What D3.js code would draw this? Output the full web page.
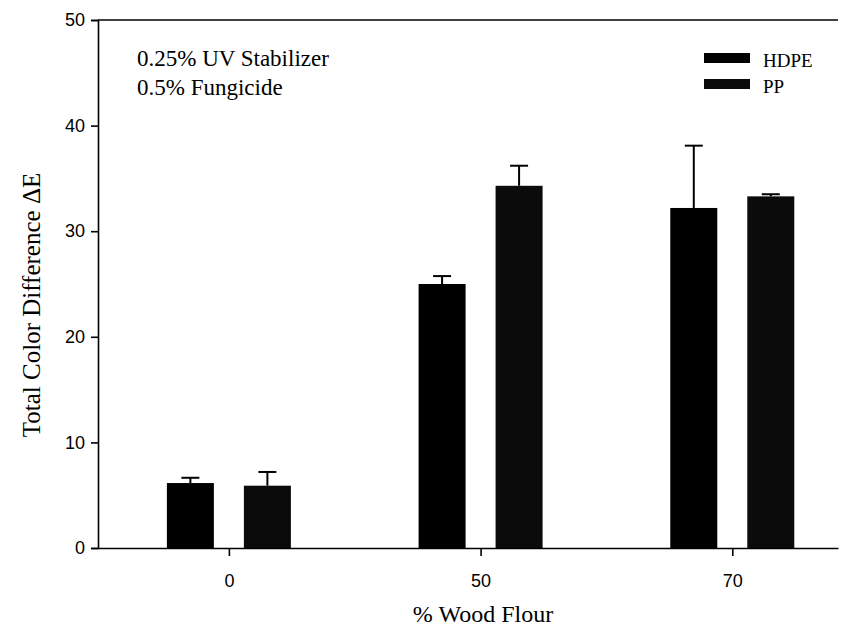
<!DOCTYPE html>
<html>
<head>
<meta charset="utf-8">
<script src="https://cdn.jsdelivr.net/npm/d3@7"></script>
<style>
  html, body { margin: 0; padding: 0; background: #fff; }
  svg { display: block; }
  .serif { font-family: "Liberation Serif", "Times New Roman", Times, serif; }
  .sans { font-family: "Liberation Sans", Arial, Helvetica, sans-serif; }
</style>
</head>
<body>
<svg id="chart" width="846" height="636"></svg>
<script>
// ---- data ----
const categories = ["0", "50", "70"];           // % Wood Flour
const seriesNames = ["HDPE", "PP"];
const hdpeValues = [6.15, 25.0, 32.2];
const hdpeErrors = [0.5, 0.75, 5.9];
const ppValues = [5.9, 34.3, 33.3];
const ppErrors = [1.3, 1.9, 0.2];
const yTicks = [0, 10, 20, 30, 40, 50];
const annotationLines = ["0.25% UV Stabilizer", "0.5% Fungicide"];

(function () {
const svg = d3.select("#chart");
const mLeft = 98, mRight = 838, mTop = 20, mBottom = 548;

const y = d3.scaleLinear().domain([0, 50]).range([mBottom, mTop]);
const x = d3.scaleLinear().domain([-0.52, 2.42]).range([mLeft, mRight]);
const offset = d3.scaleOrdinal().domain(seriesNames).range([-38.5, 38.5]);
const barW = 47;

const fills = { HDPE: "#000", PP: "#0b0b0b" };

const rows = [];
categories.forEach((c, i) => {
  rows.push({ s: "HDPE", i, v: hdpeValues[i], e: hdpeErrors[i] });
  rows.push({ s: "PP", i, v: ppValues[i], e: ppErrors[i] });
});

// bars
svg.append("g").selectAll("rect").data(rows).join("rect")
  .attr("x", d => x(d.i) + offset(d.s) - barW / 2)
  .attr("width", barW)
  .attr("y", d => y(d.v))
  .attr("height", d => y(0) - y(d.v))
  .attr("fill", d => fills[d.s]);

// error bars (upper only)
const eb = svg.append("g").attr("stroke", "#000").attr("stroke-width", 2);
eb.selectAll("line.v").data(rows).join("line").attr("class", "v")
  .attr("x1", d => x(d.i) + offset(d.s)).attr("x2", d => x(d.i) + offset(d.s))
  .attr("y1", d => y(d.v)).attr("y2", d => y(d.v + d.e));
eb.selectAll("line.c").data(rows).join("line").attr("class", "c")
  .attr("x1", d => x(d.i) + offset(d.s) - 9).attr("x2", d => x(d.i) + offset(d.s) + 9)
  .attr("y1", d => y(d.v + d.e)).attr("y2", d => y(d.v + d.e));

// y axis
const yAxis = svg.append("g").attr("transform", `translate(${mLeft},0)`)
  .call(d3.axisLeft(y).tickValues(yTicks).tickSize(7).tickPadding(6));
yAxis.attr("font-family", null).attr("font-size", null);
yAxis.select(".domain").attr("stroke-width", 1.6);
yAxis.selectAll(".tick line").attr("stroke-width", 1.6);
yAxis.selectAll("text").attr("class", "sans")
  .style("font-size", "18px").attr("fill", "#000");

// top line
svg.append("line").attr("x1", mLeft).attr("x2", mRight)
  .attr("y1", y(50)).attr("y2", y(50)).attr("stroke", "#000").attr("stroke-width", 1.6);

// x axis
const xAxis = svg.append("g").attr("transform", `translate(0,${mBottom})`)
  .call(d3.axisBottom(x).tickValues([0, 1, 2]).tickFormat(i => categories[i])
    .tickSize(8).tickSizeOuter(0).tickPadding(18));
xAxis.attr("font-family", null).attr("font-size", null);
xAxis.select(".domain").attr("stroke-width", 1.6);
xAxis.selectAll(".tick line").attr("stroke-width", 1.6);
xAxis.selectAll("text").attr("class", "sans")
  .style("font-size", "18px").attr("fill", "#000");

// axis titles
svg.append("text").attr("class", "serif").attr("x", 483).attr("y", 622).attr("text-anchor", "middle")
  .style("font-size", "24px")
  .text("% Wood Flour");
svg.append("text").attr("class", "serif").attr("transform", "translate(40,305) rotate(-90)").attr("text-anchor", "middle")
  .style("font-size", "25px")
  .text("Total Color Difference \u0394E");

// annotation
svg.append("g").selectAll("text").data(annotationLines).join("text")
  .attr("class", "serif")
  .attr("x", 137).attr("y", (d, i) => 66 + i * 29)
  .style("font-size", "23px")
  .text(d => d);

// legend
const lg = svg.append("g").selectAll("g").data(seriesNames).join("g")
  .attr("transform", (d, i) => `translate(704,${53 + i * 26})`);
lg.append("rect").attr("width", 46).attr("height", 10).attr("fill", d => fills[d]);
lg.append("text").attr("class", "serif").attr("x", 59).attr("y", 14)
  .style("font-size", "19px")
  .text(d => d);
})();
</script>
</body>
</html>
